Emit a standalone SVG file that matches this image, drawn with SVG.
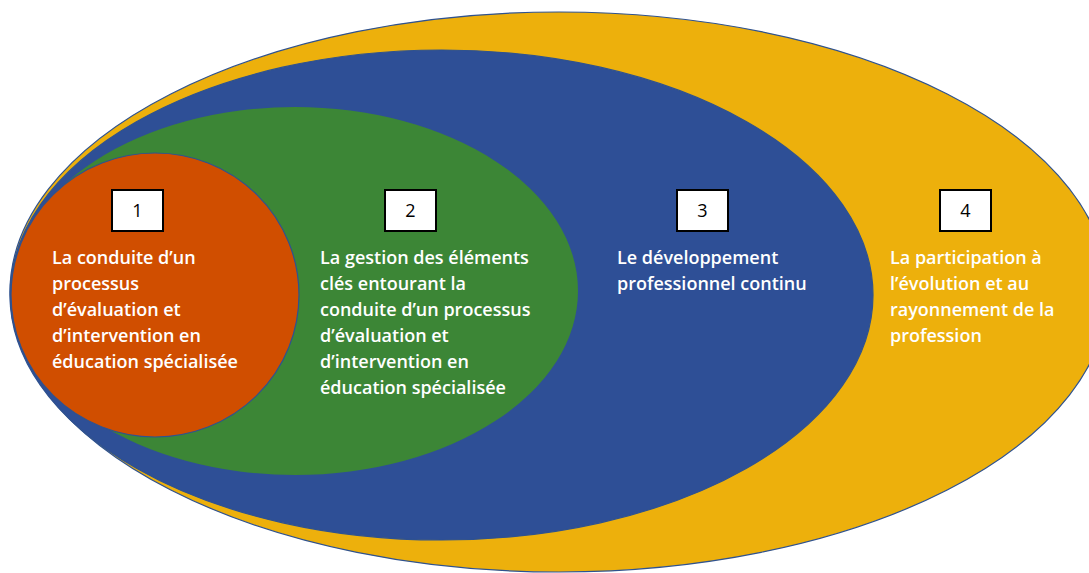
<svg xmlns="http://www.w3.org/2000/svg" width="1089" height="573" viewBox="0 0 1089 573">
  <style>
    .shape { stroke: #2F528F; stroke-width: 1.2; }
    .box { fill: #FFFFFF; stroke: #000000; stroke-width: 2; }
    .num { font-family: "Open Sans", "Liberation Sans", sans-serif; font-size: 18px; fill: #000000; text-anchor: middle; }
    .lbl { font-family: "Open Sans", "Liberation Sans", sans-serif; font-size: 18px; fill: #FFFFFF; font-weight: 600; }
  </style>
  <rect width="1089" height="573" fill="#FFFFFF"/>
  <g id="level4">
    <ellipse class="shape" cx="559" cy="292" rx="549" ry="280" fill="#EDB00C"/>
    <rect class="box" x="940" y="190" width="51" height="41"/>
    <text class="num" x="965.5" y="217">4</text>
    <text class="lbl" x="890">
      <tspan x="890" y="264">La participation à</tspan>
      <tspan x="890" y="290">l’évolution et au</tspan>
      <tspan x="890" y="316">rayonnement de la</tspan>
      <tspan x="890" y="342">profession</tspan>
    </text>
  </g>
  <g id="level3">
    <ellipse class="shape" cx="441.5" cy="295" rx="431.5" ry="245" fill="#2E4F96"/>
    <rect class="box" x="677" y="190" width="51" height="41"/>
    <text class="num" x="702.5" y="217">3</text>
    <text class="lbl" x="617">
      <tspan x="617" y="264">Le développement</tspan>
      <tspan x="617" y="290">professionnel continu</tspan>
    </text>
  </g>
  <g id="level2">
    <ellipse cx="295" cy="291" rx="283" ry="184" fill="#3C8636"/>
    <rect class="box" x="385" y="190" width="51" height="41"/>
    <text class="num" x="410.5" y="217">2</text>
    <text class="lbl" x="320">
      <tspan x="320" y="264">La gestion des éléments</tspan>
      <tspan x="320" y="290">clés entourant la</tspan>
      <tspan x="320" y="316">conduite d’un processus</tspan>
      <tspan x="320" y="342">d’évaluation et</tspan>
      <tspan x="320" y="368">d’intervention en</tspan>
      <tspan x="320" y="394">éducation spécialisée</tspan>
    </text>
  </g>
  <g id="level1">
    <ellipse class="shape" cx="155" cy="295" rx="144" ry="142" fill="#D04E00"/>
    <rect class="box" x="112" y="190" width="51" height="41"/>
    <text class="num" x="137.5" y="217">1</text>
    <text class="lbl" x="52">
      <tspan x="52" y="264">La conduite d’un</tspan>
      <tspan x="52" y="290">processus</tspan>
      <tspan x="52" y="316">d’évaluation et</tspan>
      <tspan x="52" y="342">d’intervention en</tspan>
      <tspan x="52" y="368">éducation spécialisée</tspan>
    </text>
  </g>
  <g id="connectors"></g>
</svg>
